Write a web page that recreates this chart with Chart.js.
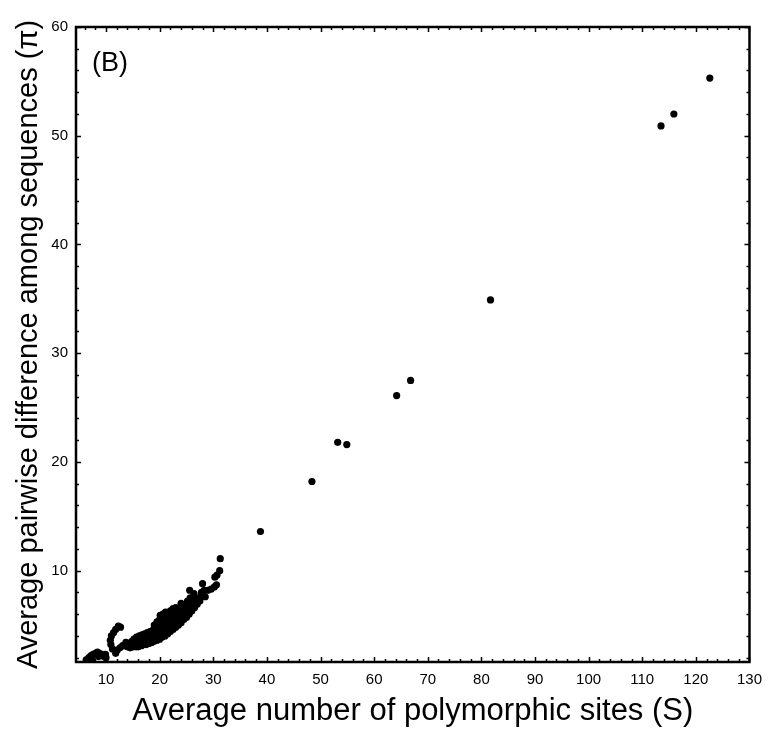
<!DOCTYPE html>
<html>
<head>
<meta charset="utf-8">
<script src="https://cdn.jsdelivr.net/npm/chart.js@4.4.1/dist/chart.umd.min.js"></script>
<style>
    html, body { margin: 0; padding: 0; background: #fff; }
</style>
</head>
<body>
<canvas id="scatterChart" width="771" height="731"></canvas>
<script>
'use strict';

// S values (x) and pi values (y)
const sitesS = [
    // low blob
    6.3, 6.8, 7.2, 7.4, 7.6, 8.0, 8.4, 8.6, 8.8, 9.2, 9.6, 9.9, 10.0,
    // hook
    11.8, 11.2, 10.9, 10.8, 11.0, 11.4, 11.8, 12.3, 12.7, 12.1, 12.6, 13.1,
    // main band
    13.4, 13.7, 14.0, 14.2, 14.5, 14.6, 14.8, 15.1, 15.0, 15.2, 15.6, 15.5, 15.7,
    16.0, 16.1, 15.9, 16.2, 16.6, 16.4, 16.5, 16.7, 17.0, 17.1, 16.9, 17.2,
    17.5, 17.6, 17.4, 17.7, 18.0, 18.1, 17.9, 18.2, 18.5, 18.6, 18.4, 18.7,
    19.0, 19.1, 18.9, 19.2, 19.0, 19.5, 19.6, 19.4, 19.7, 19.5,
    20.0, 20.1, 19.9, 20.2, 20.0, 20.1, 20.5, 20.6, 20.4, 20.7, 20.5, 20.6,
    21.0, 21.1, 20.9, 21.2, 21.0, 21.1, 21.5, 21.6, 21.4, 21.7, 21.5,
    22.0, 22.1, 21.9, 22.2, 22.0, 22.5, 22.6, 22.4, 22.7, 22.5,
    23.0, 23.1, 22.9, 23.2, 23.0, 23.5, 23.6, 23.4, 23.7,
    24.0, 24.1, 23.9, 24.2, 24.0, 24.5, 24.6, 24.4, 24.7,
    25.0, 25.1, 24.9, 25.2, 25.5, 25.6, 25.4, 25.7,
    26.0, 26.1, 25.9, 26.5, 26.6, 26.4, 27.0, 27.1, 27.5, 27.6,
    // upper end of the cluster
    25.6, 26.4, 27.8, 28.0, 28.3, 28.5, 29.0, 29.6, 30.2, 30.6, 30.3, 30.7, 31.2, 31.3,
    // isolated points
    38.8, 48.4, 53.2, 54.9, 64.2, 66.8, 81.7, 113.5, 115.9, 122.6
];

const diffPi = [
    1.8, 2.0, 2.2, 1.9, 2.3, 2.4, 2.5, 2.1, 2.4, 2.3, 2.1, 2.3, 2.0,
    2.4, 2.8, 3.2, 3.6, 4.0, 4.3, 4.6, 4.9, 4.8, 2.7, 2.9, 3.1,
    3.1, 3.4, 3.0, 3.3, 2.9, 3.2, 3.5, 3.0, 3.3, 3.7, 3.0, 3.4, 3.9,
    3.0, 3.3, 3.6, 4.0, 3.1, 3.4, 3.8, 4.1, 3.2, 3.5, 3.8, 4.2,
    3.2, 3.6, 3.9, 4.3, 3.3, 3.6, 4.0, 4.4, 3.4, 3.7, 4.1, 4.5,
    3.5, 3.8, 4.2, 4.6, 5.0, 3.6, 3.9, 4.3, 4.7, 5.3,
    3.7, 4.0, 4.5, 4.9, 5.5, 5.9, 3.9, 4.2, 4.6, 5.1, 5.6, 6.0,
    4.0, 4.4, 4.8, 5.3, 5.8, 6.2, 4.2, 4.6, 5.0, 5.5, 6.0,
    4.4, 4.8, 5.2, 5.7, 6.3, 4.6, 5.0, 5.4, 5.9, 6.5,
    4.8, 5.2, 5.6, 6.1, 6.6, 5.0, 5.4, 5.8, 6.3,
    5.2, 5.6, 6.0, 6.5, 7.0, 5.5, 5.9, 6.3, 6.8,
    5.7, 6.1, 6.6, 7.2, 6.0, 6.4, 6.9, 7.5,
    6.3, 6.7, 7.2, 6.6, 7.0, 7.6, 6.9, 7.3, 7.2, 7.6,
    8.2, 7.9, 8.0, 8.8, 8.2, 7.6, 8.2, 8.3, 8.5, 8.7, 9.4, 9.6, 10.0, 11.1,
    13.6, 18.2, 21.8, 21.6, 26.1, 27.5, 34.9, 50.9, 52.0, 55.3
];

const xTickValues = [10, 20, 30, 40, 50, 60, 70, 80, 90, 100, 110, 120, 130];
const yTickValues = [10, 20, 30, 40, 50, 60];

const panelLabel = '(B)';
const xTitle = 'Average number of polymorphic sites (S)';
const yTitle = 'Average pairwise difference among sequences (\u03c0)';

const fontFamily = '"Liberation Sans", Arial, Helvetica, sans-serif';

document.addEventListener('DOMContentLoaded', () => {

    // box round the plot, ticks pointing inwards, and the panel letter
    const frameTicks = {
        id: 'frameTicks',
        afterDatasetsDraw(chart) {
            const ctx = chart.ctx,
                a = chart.chartArea,
                x = chart.scales.x,
                y = chart.scales.y;

            ctx.save();
            ctx.strokeStyle = '#000';
            ctx.lineWidth = 1.5;

            for (let v = 6; v <= 130; v += 2) {
                const px = Math.round(x.getPixelForValue(v)) + 0.5;
                const len = v % 10 === 0 ? 5 : 3;
                ctx.beginPath();
                ctx.moveTo(px, a.bottom);
                ctx.lineTo(px, a.bottom - len);
                ctx.moveTo(px, a.top);
                ctx.lineTo(px, a.top + len);
                ctx.stroke();
            }

            for (let v = 2; v <= 60; v += 2) {
                const py = Math.round(y.getPixelForValue(v)) + 0.5;
                const len = v % 10 === 0 ? 5 : 3;
                ctx.beginPath();
                ctx.moveTo(a.left, py);
                ctx.lineTo(a.left + len, py);
                ctx.moveTo(a.right, py);
                ctx.lineTo(a.right - len, py);
                ctx.stroke();
            }

            ctx.lineWidth = 2.5;
            ctx.strokeRect(a.left, a.top, a.right - a.left, a.bottom - a.top);

            ctx.fillStyle = '#000';
            ctx.font = '27px ' + fontFamily;
            ctx.textAlign = 'left';
            ctx.textBaseline = 'middle';
            ctx.fillText(panelLabel, a.left + 16, a.top + 37);
            ctx.restore();
        }
    };

    const points = sitesS.map((s, i) => ({ x: s, y: diffPi[i] }));

    const config = {
        type: 'scatter',
        data: {
            datasets: [{
                data: points,
                backgroundColor: '#000',
                borderColor: '#000',
                borderWidth: 0,
                pointRadius: 3.6,
                pointHoverRadius: 3.6
            }]
        },
        options: {
            responsive: false,
            animation: false,
            layout: {
                padding: { top: 27, right: 18, left: 0, bottom: 0 }
            },
            plugins: {
                legend: { display: false },
                tooltip: { enabled: false }
            },
            scales: {
                x: {
                    type: 'linear',
                    min: 4.4,
                    max: 130,
                    grid: { display: false, drawTicks: false },
                    border: { display: false },
                    afterBuildTicks: scale => {
                        scale.ticks = xTickValues.map(v => ({ value: v }));
                    },
                    afterFit: scale => {
                        scale.height = 69;
                    },
                    ticks: {
                        color: '#000',
                        padding: 9,
                        autoSkip: false,
                        maxRotation: 0,
                        font: { family: fontFamily, size: 15 }
                    },
                    title: {
                        display: true,
                        text: xTitle,
                        color: '#000',
                        padding: { top: 0, bottom: 1 },
                        font: { family: fontFamily, size: 31 }
                    }
                },
                y: {
                    type: 'linear',
                    min: 1.6,
                    max: 60,
                    grid: { display: false, drawTicks: false },
                    border: { display: false },
                    afterBuildTicks: scale => {
                        scale.ticks = yTickValues.map(v => ({ value: v }));
                    },
                    afterFit: scale => {
                        scale.width = 76;
                    },
                    ticks: {
                        color: '#000',
                        padding: 8,
                        font: { family: fontFamily, size: 15 }
                    },
                    title: {
                        display: true,
                        text: yTitle,
                        color: '#000',
                        padding: { top: 12, bottom: 0 },
                        font: { family: fontFamily, size: 29 }
                    }
                }
            }
        },
        plugins: [frameTicks]
    };

    const scatterChart = new Chart(
        document.getElementById('scatterChart'),
        config
    );
});
</script>
</body>
</html>
